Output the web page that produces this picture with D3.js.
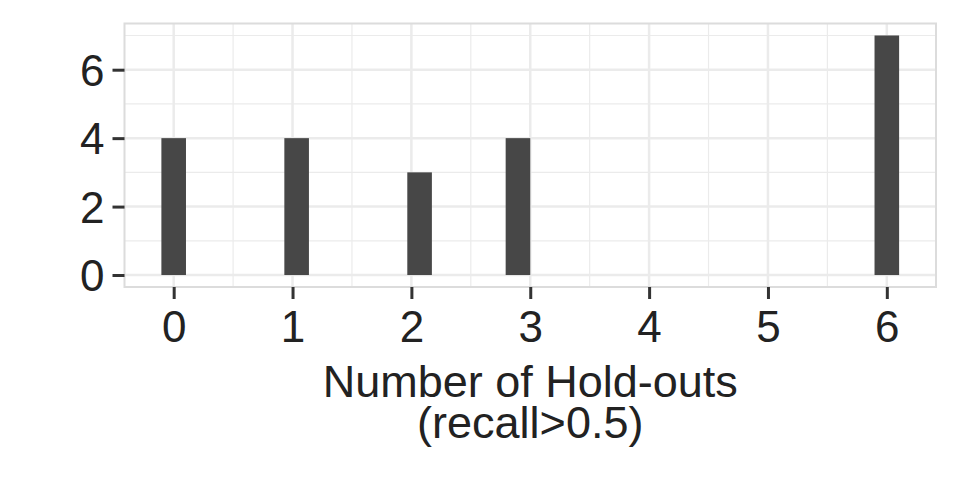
<!DOCTYPE html>
<html><head><meta charset="utf-8">
<script src="https://cdn.jsdelivr.net/npm/d3@7"></script>
<style>body{margin:0;background:#fff}svg{display:block}text{font-family:"Liberation Sans",Arial,Helvetica,sans-serif}</style>
</head><body>
<script>
// Data: number of hold-outs (recall>0.5) and how many cases had each
const holdouts = [0, 1, 2, 3, 6];
const counts = [4, 4, 3, 4, 7];
const xTicks = [0, 1, 2, 3, 4, 5, 6];
const yTicks = [0, 2, 4, 6];
const nBins = 30;

const W = 960, H = 480;
const panel = {left: 124.5, right: 936, top: 23.5, bottom: 287};

// histogram bins as ggplot: 30 bins over [0,6]
const lo = d3.min(holdouts), hi = d3.max(holdouts);
const bw = (hi - lo) / (nBins - 1);
const binOf = v => { let k = Math.ceil((v - lo) / bw - 0.5); return lo + k * bw; };
const bars = holdouts.map((v, i) => ({c: binOf(v), n: counts[i]}));

const xmin = lo - bw / 2, xmax = hi + bw / 2, xr = xmax - xmin;
const x = d3.scaleLinear().domain([xmin - 0.05 * xr, xmax + 0.05 * xr]).range([panel.left, panel.right]);
const ymax = d3.max(counts);
const y = d3.scaleLinear().domain([-0.05 * ymax, ymax * 1.05]).range([panel.bottom, panel.top]);

const svg = d3.select("body").append("svg").attr("width", W).attr("height", H);
const g = svg.append("g");

// minor grid
const xMinor = d3.range(-0.5, 7, 1).filter(v => v > x.domain()[0] && v < x.domain()[1]);
const yMinor = d3.range(1, 8, 2);
g.selectAll(".xminor").data(xMinor).join("line")
  .attr("x1", d => x(d)).attr("x2", d => x(d)).attr("y1", panel.top).attr("y2", panel.bottom)
  .attr("stroke", "#ebebeb").attr("stroke-width", 1.2);
g.selectAll(".yminor").data(yMinor).join("line")
  .attr("y1", d => y(d)).attr("y2", d => y(d)).attr("x1", panel.left).attr("x2", panel.right)
  .attr("stroke", "#ebebeb").attr("stroke-width", 1.2);
// major grid
g.selectAll(".xmajor").data(xTicks).join("line")
  .attr("x1", d => x(d)).attr("x2", d => x(d)).attr("y1", panel.top).attr("y2", panel.bottom)
  .attr("stroke", "#ebebeb").attr("stroke-width", 2.5);
g.selectAll(".ymajor").data(yTicks).join("line")
  .attr("y1", d => y(d)).attr("y2", d => y(d)).attr("x1", panel.left).attr("x2", panel.right)
  .attr("stroke", "#ebebeb").attr("stroke-width", 2.5);

// bars
g.selectAll(".bar").data(bars).join("rect")
  .attr("x", d => x(d.c - bw / 2)).attr("width", d => x(d.c + bw / 2) - x(d.c - bw / 2))
  .attr("y", d => y(d.n)).attr("height", d => y(0) - y(d.n))
  .attr("fill", "#474747");

// panel border
g.append("rect").attr("x", panel.left).attr("y", panel.top)
  .attr("width", panel.right - panel.left).attr("height", panel.bottom - panel.top)
  .attr("fill", "none").attr("stroke", "#dcdcdc").attr("stroke-width", 2);

// axes
const xAxis = d3.axisBottom(x).tickValues(xTicks).tickFormat(d3.format("d")).tickSize(12).tickPadding(10);
const yAxis = d3.axisLeft(y).tickValues(yTicks).tickFormat(d3.format("d")).tickSize(12).tickPadding(8);
const gx = svg.append("g").attr("transform", `translate(0,${panel.bottom})`).call(xAxis);
const gy = svg.append("g").attr("transform", `translate(${panel.left},0)`).call(yAxis);
[gx, gy].forEach(a => {
  a.select(".domain").remove();
  a.selectAll(".tick line").attr("stroke", "#333").attr("stroke-width", 3);
  a.selectAll(".tick text").attr("fill", "#222").style("font-size", "44px");
});
gx.selectAll(".tick text").attr("dy", "0.75em");
gy.selectAll(".tick text").attr("dy", "0.36em");

// axis title
const cx = (panel.left + panel.right) / 2;
svg.append("text").attr("text-anchor", "middle").attr("fill", "#222").style("font-size", "45px")
  .attr("x", cx).attr("y", 397).text("Number of Hold-outs");
svg.append("text").attr("text-anchor", "middle").attr("fill", "#222").style("font-size", "45px")
  .attr("x", cx).attr("y", 438).text("(recall>0.5)");
</script>
</body></html>
